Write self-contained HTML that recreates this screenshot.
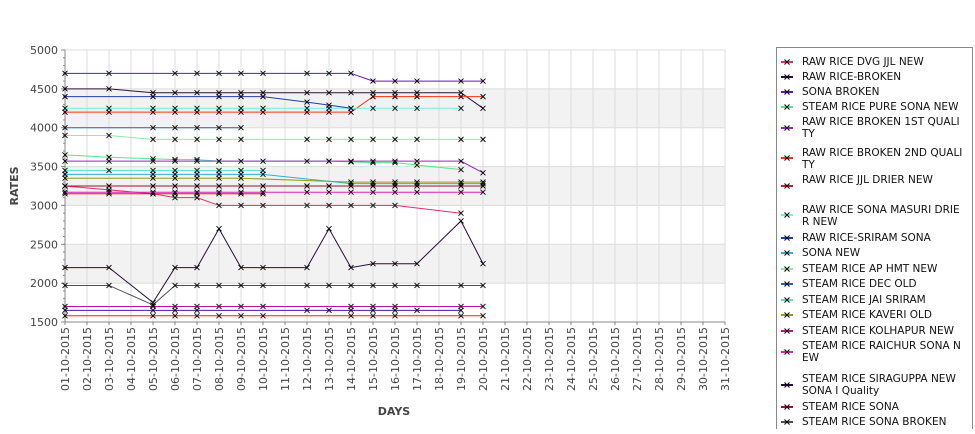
<!DOCTYPE html>
<html><head><meta charset="utf-8"><style>
body{margin:0;background:#fff;font-family:"Liberation Sans","DejaVu Sans",sans-serif;}
svg text{font-family:"DejaVu Sans","Liberation Sans",sans-serif;}
</style></head><body>
<svg id="c" width="975" height="429" xmlns="http://www.w3.org/2000/svg"></svg>
<script>
const categories=["01-10-2015","02-10-2015","03-10-2015","04-10-2015","05-10-2015","06-10-2015","07-10-2015","08-10-2015","09-10-2015","10-10-2015","11-10-2015","12-10-2015","13-10-2015","14-10-2015","15-10-2015","16-10-2015","17-10-2015","18-10-2015","19-10-2015","20-10-2015","21-10-2015","22-10-2015","23-10-2015","24-10-2015","25-10-2015","26-10-2015","27-10-2015","28-10-2015","29-10-2015","30-10-2015","31-10-2015"];
const dataDays=[0,2,4,5,6,7,8,9,11,12,13,14,15,16,18,19];
const yTicks=[1500,2000,2500,3000,3500,4000,4500,5000];
const seriesNames=["RAW RICE DVG JJL NEW","RAW RICE-BROKEN","SONA BROKEN","STEAM RICE PURE SONA NEW","RAW RICE BROKEN 1ST QUALITY","RAW RICE BROKEN 2ND QUALITY","RAW RICE JJL DRIER NEW","RAW RICE SONA MASURI DRIER NEW","RAW RICE-SRIRAM SONA","SONA NEW","STEAM RICE AP HMT NEW","STEAM RICE DEC OLD","STEAM RICE JAI SRIRAM","STEAM RICE KAVERI OLD","STEAM RICE KOLHAPUR NEW","STEAM RICE RAICHUR SONA NEW","STEAM RICE SIRAGUPPA NEW SONA I Quality","STEAM RICE SONA","STEAM RICE SONA BROKEN"];
const colors=["#e0306a","#30103a","#6a10c0","#50e890","#a020c0","#ff3010","#e01030","#70f0e0","#2040a0","#30b0d0","#90e8b0","#2060c0","#60e0d0","#90a010","#c010a0","#e020b0","#2a0a40","#a01030","#505050"];
const _=null;
const sDvg=[3250,3200,3150,3100,3100,3000,3000,3000,3000,3000,3000,3000,3000,_,2900,_];
const sRawBroken=[4500,4500,4450,4450,4450,4450,4450,4450,4450,4450,4450,4450,4450,4450,4450,4250];
const sSonaBroken=[4700,4700,_,4700,4700,4700,4700,4700,4700,4700,4700,4600,4600,4600,4600,4600];
const sPureSona=[3650,3620,3600,3590,3590,3570,_,_,_,3570,3560,3550,3550,3520,3460,_];
const s1st=[3570,3570,3570,3570,3570,3570,3570,3570,3570,3570,3570,3570,3570,3570,3570,3420];
const s2nd=[4200,4200,4200,4200,4200,4200,4200,4200,4200,4200,4200,4400,4400,4400,4400,4400];
const sJjlDrier=[3150,3150,3150,3150,3150,3150,3150,3150,_,_,_,_,_,_,_,_];
const sMasuri=[4250,4250,4250,4250,4250,4250,4250,4250,4250,4250,4250,4250,4250,4250,4250,_];
const sSriram=[4400,_,4400,_,_,4400,4400,4400,4330,4290,4250,_,_,_,_,_];
const sSonaNew=[3400,_,3400,3400,3400,3400,3400,3400,_,_,3280,3280,3280,3280,3280,3280];
const sApHmt=[3900,3900,3850,3850,3850,3850,3850,_,3850,3850,3850,3850,3850,3850,3850,3850];
const sDecOld=[4000,_,4000,4000,4000,4000,4000,_,_,_,_,_,_,_,_,_];
const sJai=[3450,3450,3450,3450,3450,3450,3450,3450,_,_,_,_,_,_,_,_];
const sKaveri=[3350,_,3350,3350,3350,3350,3350,_,_,_,3300,3300,3300,3300,3300,3300];
const sKolhapur=[1700,_,1700,1700,1700,1700,1700,1700,_,_,1700,1700,1700,_,1700,1700];
const sRaichur=[3170,3170,3170,3170,3170,3170,3170,3170,3170,3170,3170,3170,3170,3170,3170,3170];
const sSiraguppa=[2200,2200,1750,2200,2200,2700,2200,2200,2200,2700,2200,2250,2250,2250,2800,2250];
const sSteamSona=[3250,3250,3250,3250,3250,3250,3250,3250,3250,3250,3250,3250,3250,3250,3250,3250];
const sSteamSonaBroken=[1970,1970,1720,1970,1970,1970,1970,1970,1970,1970,1970,1970,1970,1970,1970,1970];
const sExtraPurple=[1650,_,1650,1650,1650,_,_,_,1650,1650,1650,1650,1650,1650,1650,_];
const sExtraRed=[1580,_,1580,1580,1580,1580,1580,1580,_,_,1580,1580,1580,_,1580,1580];
const plotted=[sDvg,sRawBroken,sSonaBroken,sPureSona,s1st,s2nd,sJjlDrier,sMasuri,sSriram,sSonaNew,sApHmt,sDecOld,sJai,sKaveri,sKolhapur,sRaichur,sSiraguppa,sSteamSona,sSteamSonaBroken,sExtraPurple,sExtraRed];
const plotColors=colors.concat(["#5010b0","#ff2000"]);

const NS="http://www.w3.org/2000/svg";
const svg=document.getElementById('c');
const L=65,R=725,T=50,B=322,vmin=1500,vmax=5000;
const xs=i=>L+i*(R-L)/(categories.length-1);
const ys=v=>B-(v-vmin)*(B-T)/(vmax-vmin);
function mk(tag,attrs,parent){const e=document.createElementNS(NS,tag);for(const k in attrs)e.setAttribute(k,attrs[k]);(parent||svg).appendChild(e);return e;}
const plot=mk('g',{});


for(let k=0;k<yTicks.length-1;k++){ if(yTicks[k]%1000===0){const b=mk('rect',{x:L,y:ys(yTicks[k+1]),width:R-L,height:ys(yTicks[k])-ys(yTicks[k+1]),fill:'#f2f2f2'},plot);

}}
categories.forEach((c,i)=>{const g=mk('line',{x1:xs(i),x2:xs(i),y1:T,y2:B,stroke:'#dcdcdc','stroke-width':1},plot);

});
yTicks.forEach(v=>{const g=mk('line',{x1:L,x2:R,y1:ys(v),y2:ys(v),stroke:'#dcdcdc'},plot);


const t=mk('text',{x:58,y:ys(v)+4,'text-anchor':'end','font-size':11,fill:'#444'},plot);t.textContent=v;


mk('line',{x1:L-4,x2:L,y1:ys(v),y2:ys(v),stroke:'#888'},plot);});
for(let v=vmin;v<vmax;v+=100){mk('line',{x1:L-2,x2:L,y1:ys(v),y2:ys(v),stroke:'#888'},plot);}
mk('line',{x1:L,x2:L,y1:T,y2:B,stroke:'#888'},plot);
mk('line',{x1:L,x2:R,y1:B,y2:B,stroke:'#888'},plot);
categories.forEach((c,i)=>{mk('line',{x1:xs(i),x2:xs(i),y1:B,y2:B+3,stroke:'#888'},plot);
const t=mk('text',{x:0,y:0,transform:`translate(${xs(i)+4},${B+5}) rotate(-90)`,'text-anchor':'end','font-size':11,fill:'#444'},plot);t.textContent=c;

});
plotted.forEach((s,si)=>{const pts=[];s.forEach((v,j)=>{if(v!==null)pts.push([xs(dataDays[j]),ys(v)]);});
const g=mk('g',{});


mk('polyline',{points:pts.map(p=>p.join(',')).join(' '),fill:'none',stroke:plotColors[si],'stroke-width':1},g);
pts.forEach(p=>{mk('path',{d:`M${p[0]-2.5},${p[1]-2.5}L${p[0]+2.5},${p[1]+2.5}M${p[0]-2.5},${p[1]+2.5}L${p[0]+2.5},${p[1]-2.5}`,stroke:'#000','stroke-width':0.9},g);});});
const yl=mk('text',{x:0,y:0,transform:'translate(18,186) rotate(-90)','text-anchor':'middle','font-size':11,'font-weight':'bold',fill:'#444'});yl.textContent='RATES';


const xl=mk('text',{x:394,y:415,'text-anchor':'middle','font-size':11,'font-weight':'bold',fill:'#444'});xl.textContent='DAYS';


const lg=mk('g',{});


mk('rect',{x:776.5,y:47.5,width:196,height:390,fill:'#fff',stroke:'#888'},lg);
const legendLines=[[" RAW RICE DVG JJL NEW"],[" RAW RICE-BROKEN"],[" SONA BROKEN"],[" STEAM RICE PURE SONA NEW"],["RAW RICE BROKEN 1ST QUALI","TY"],["RAW RICE BROKEN 2ND QUALI","TY"],["RAW RICE JJL DRIER NEW",""],["RAW RICE SONA MASURI DRIE","R NEW"],["RAW RICE-SRIRAM SONA"],["SONA NEW"],["STEAM RICE AP HMT NEW"],["STEAM RICE DEC OLD"],["STEAM RICE JAI SRIRAM"],["STEAM RICE KAVERI OLD"],["STEAM RICE KOLHAPUR NEW"],["STEAM RICE RAICHUR SONA N","EW"],["STEAM RICE SIRAGUPPA NEW","SONA I Quality"],["STEAM RICE SONA"],["STEAM RICE SONA BROKEN"]];
const legendY=[61,76,91,106,121,152,179,209,237,252,268,283,299,314,330,345,378,406,421];
const markY=[62,77,92,107,128,158,186,215,238,253,269,284,300,315,331,352,385,407,422];
legendLines.forEach((ls,i)=>{const g=mk('g',{},lg);


const my=markY[i];
mk('line',{x1:781,x2:793,y1:my,y2:my,stroke:colors[i],'stroke-width':2},g);
mk('path',{d:`M784.5,${my-2.5}L789.5,${my+2.5}M784.5,${my+2.5}L789.5,${my-2.5}`,stroke:'#000'},g);
ls.forEach((s,k)=>{const t=mk('text',{x:802,y:legendY[i]+4+k*12,'font-size':10.5,fill:'#111','xml:space':'preserve'},g);t.textContent=s;});});
</script>
</body></html>
